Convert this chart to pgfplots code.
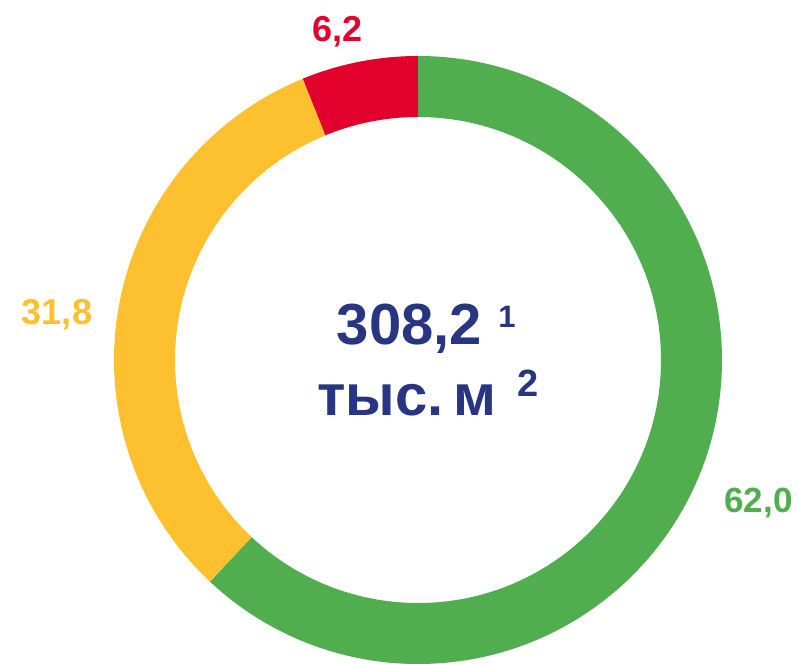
\documentclass[border=0pt]{standalone}
\usepackage{pgfplots}
\pgfplotsset{compat=1.18}
\usepackage{pgfplotstable}
\usepackage{fontspec}
\setmainfont{Liberation Sans}
\definecolor{cgreen}{HTML}{50AE4F}
\definecolor{cyellow}{HTML}{FDC02F}
\definecolor{cred}{HTML}{E2002D}
\definecolor{cblue}{HTML}{283583}
\pgfplotstableread{
value
62.0
31.8
6.2
}\shares
\pgfplotstablegetelem{0}{value}\of\shares \let\vA\pgfplotsretval
\pgfplotstablegetelem{1}{value}\of\shares \let\vB\pgfplotsretval
\pgfplotstablegetelem{2}{value}\of\shares \let\vC\pgfplotsretval
\pgfmathsetmacro{\aA}{90-3.6*\vA}
\pgfmathsetmacro{\aB}{\aA-3.6*\vB}
\pgfmathsetmacro{\aC}{\aB-3.6*\vC}
\begin{document}
\begin{tikzpicture}
\begin{axis}[
  scale only axis, width=799bp, height=664bp,
  xmin=0, xmax=799, ymin=0, ymax=664,
  hide axis, clip=false]
\draw[cgreen, line width=61bp] (axis cs:418,304) ++(90:273.5bp) arc[start angle=90, end angle=\aA, radius=273.5bp];
\draw[cyellow, line width=61bp] (axis cs:418,304) ++(\aA:273.5bp) arc[start angle=\aA, end angle=\aB, radius=273.5bp];
\draw[cred, line width=61bp] (axis cs:418,304) ++(\aB:273.5bp) arc[start angle=\aB, end angle=\aC, radius=273.5bp];
\node[anchor=base, inner sep=0, text=cred, font=\bfseries\fontsize{36bp}{40bp}\selectfont] at (axis cs:337.5,622) {6,2};
\node[anchor=base, inner sep=0, text=cyellow, font=\bfseries\fontsize{36bp}{40bp}\selectfont] at (axis cs:57,339) {31,8};
\node[anchor=base, inner sep=0, text=cgreen, font=\bfseries\fontsize{35bp}{40bp}\selectfont] at (axis cs:758.5,151) {62,0};
\node[anchor=base, inner sep=0, text=cblue, font=\bfseries\fontsize{58bp}{62bp}\selectfont] at (axis cs:409.5,319) {308,2};
\node[anchor=base, inner sep=0, text=cblue, font=\bfseries\fontsize{31bp}{34bp}\selectfont] at (axis cs:507,336) {1};
\node[anchor=base, inner sep=0, text=cblue, font=\bfseries\fontsize{58bp}{62bp}\selectfont] at (axis cs:407,248) {тыс.\,м};
\node[anchor=base, inner sep=0, text=cblue, font=\bfseries\fontsize{38bp}{42bp}\selectfont] at (axis cs:528.5,267) {2};
\end{axis}
\pgfresetboundingbox
\path[use as bounding box] (current axis.south west) rectangle (current axis.north east);
\end{tikzpicture}
\end{document}
